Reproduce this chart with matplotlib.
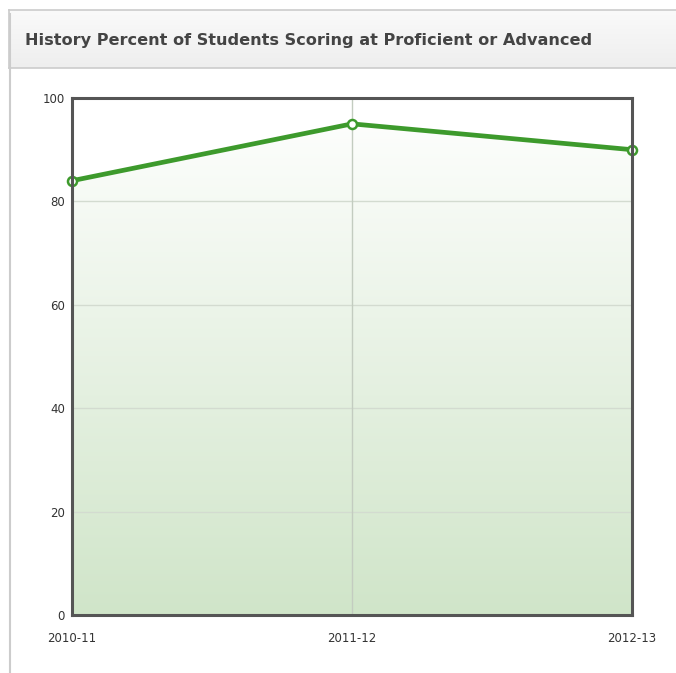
import matplotlib.pyplot as plt
import matplotlib.patches as mpatches
import numpy as np

# data
years = ["2010-11", "2011-12", "2012-13"]
percent = [84, 95, 90]
yticks = [0, 20, 40, 60, 80, 100]
title = "History Percent of Students Scoring at Proficient or Advanced"

fig = plt.figure(figsize=(6.76, 6.73), dpi=100)
W, H = 676, 673

# panel box + header band (light gradient)
bg = fig.add_axes([9 / W, 1 - 68 / H, 1 - 9 / W, 58 / H], zorder=0)
hgrad = np.linspace(0, 1, 64).reshape(-1, 1)
c0 = np.array([0xfa, 0xfa, 0xfa]) / 255
c1 = np.array([0xee, 0xee, 0xee]) / 255
bg.imshow((c0 + (c1 - c0) * hgrad).reshape(64, 1, 3), aspect="auto",
          extent=[0, 1, 0, 1])
bg.set_xticks([])
bg.set_yticks([])
for s in bg.spines.values():
    s.set_color("#cccccc")
    s.set_linewidth(1.2)
bg.spines["right"].set_visible(False)
fig.add_artist(plt.Line2D([9.5 / W, 9.5 / W], [0, 1 - 14 / H], transform=fig.transFigure,
                          color="#cccccc", lw=1.5))
fig.text(25 / W, 1 - 40 / H, title, fontsize=11.6, fontweight="bold",
         family="DejaVu Sans", color="#444444", va="center", ha="left")

ax = fig.add_axes([72 / W, 58 / H, 560 / W, 517 / H])
x = np.arange(len(years))
ax.set_xlim(0, len(years) - 1)
ax.set_ylim(0, 100)

# gradient fill under the line
grad = np.linspace(0, 1, 256).reshape(-1, 1)
top = np.array([1.0, 1.0, 1.0])
bottom = np.array([0xd0, 0xe5, 0xc9]) / 255
img = top + (bottom - top) * grad
img = img.reshape(256, 1, 3)
im = ax.imshow(img, extent=[0, len(years) - 1, 0, 100], aspect="auto",
               origin="upper", zorder=1)
poly = ax.fill_between(x, percent, 0, facecolor="none", edgecolor="none")
path = poly.get_paths()[0]
im.set_clip_path(path, transform=ax.transData)

for yv in yticks[1:-1]:
    ax.axhline(yv, color="#d3dbd0", lw=1.0, zorder=2)
ax.axvline(1, color="#c3ccc0", lw=1.0, zorder=2)

ax.plot(x, percent, color="#3d9a2c", lw=3.4, zorder=4, solid_capstyle="round",
        marker="o", markersize=6.5, markerfacecolor="white",
        markeredgecolor="#3d9a2c", markeredgewidth=1.8, clip_on=False)

ax.set_yticks(yticks)
ax.set_xticks(x)
ax.set_xticklabels(years)
ax.tick_params(axis="both", length=0, labelsize=8.5, colors="#333333")
ax.tick_params(axis="x", pad=12)
ax.tick_params(axis="y", pad=5)
for s in ax.spines.values():
    s.set_color("#555555")
    s.set_linewidth(2.2)
    s.set_zorder(5)

fig.savefig("out.png", dpi=100)
